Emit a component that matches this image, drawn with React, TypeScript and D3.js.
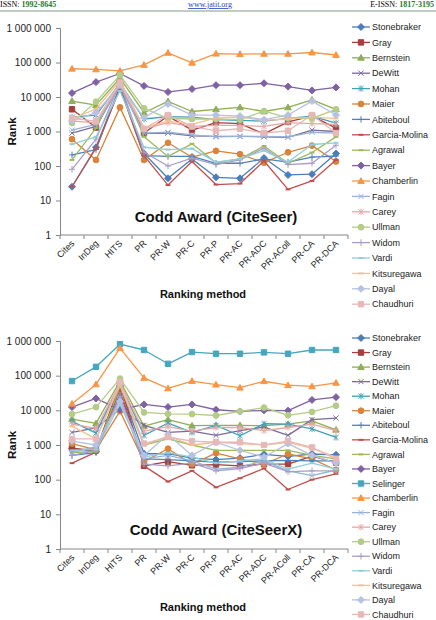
import React, { useEffect, useRef } from 'react';
import * as d3 from 'd3';

const methods = ['Cites', 'InDeg', 'HITS', 'PR', 'PR-W', 'PR-C', 'PR-P', 'PR-AC', 'PR-ADC', 'PR-AColl', 'PR-CA', 'PR-DCA'];
const rankTicks = [1, 10, 100, 1000, 10000, 100000, 1000000];

// CiteSeer ranks
const seerStonebraker = [25, 350, 20000, 230, 44, 160, 47, 44, 170, 55, 58, 230];
const seerGray = [4400, 1300, 28000, 900, 2800, 1100, 1800, 1700, 850, 1900, 2800, 1250];
const seerBernstein = [7600, 5800, 35000, 3500, 7500, 3800, 4400, 5000, 3800, 5000, 8300, 4400];
const seerDeWitt = [900, 1400, 22000, 880, 900, 750, 720, 720, 700, 680, 1100, 1000];
const seerMohan = [2600, 3000, 25000, 2300, 2700, 2600, 2200, 2100, 2000, 2400, 2800, 1750];
const seerMaier = [600, 150, 5000, 150, 470, 180, 275, 220, 125, 250, 390, 135];
const seerAbiteboul = [210, 300, 20000, 200, 190, 190, 120, 120, 160, 130, 180, 195];
const seerGarciaMolina = [25, 330, 18000, 200, 28, 135, 29, 31, 140, 21, 37, 150];
const seerAgrawal = [150, 1250, 30000, 700, 190, 440, 125, 160, 380, 120, 245, 700];
const seerBayer = [13000, 27000, 48000, 21000, 14000, 17000, 22000, 22000, 25000, 20000, 15500, 19000];
const seerChamberlin = [66000, 63000, 57000, 85000, 190000, 98000, 180000, 175000, 178000, 178000, 195000, 165000];
const seerFagin = [1100, 1600, 21000, 900, 950, 800, 700, 720, 720, 700, 950, 900];
const seerCarey = [2000, 1800, 24000, 1200, 1800, 1400, 1500, 1500, 1400, 1800, 1700, 1600];
const seerUllman = [1750, 7300, 43000, 4700, 2400, 2300, 2300, 2200, 3900, 2500, 2400, 4400];
const seerWidom = [80, 600, 25000, 250, 100, 170, 110, 150, 330, 110, 120, 400];
const seerVardi = [430, 700, 15000, 350, 300, 320, 130, 160, 280, 130, 420, 470];
const seerKitsuregawa = [2300, 4500, 30000, 1300, 2000, 1600, 2500, 2600, 2100, 2300, 2600, 2400];
const seerDayal = [2000, 3500, 22000, 2500, 6300, 3000, 3000, 2800, 2200, 3000, 7600, 3000];
const seerChaudhuri = [2400, 2000, 26000, 1200, 3000, 1400, 1050, 1200, 900, 1050, 3000, 900];

// CiteSeerX ranks
const seerxStonebraker = [800, 650, 50000, 560, 560, 420, 380, 420, 540, 470, 550, 520];
const seerxGray = [800, 700, 60000, 250, 330, 260, 270, 250, 280, 280, 480, 310];
const seerxBernstein = [5600, 4200, 70000, 3500, 5400, 3600, 3700, 3700, 3600, 4000, 5000, 2750];
const seerxDeWitt = [2300, 3100, 11000, 3700, 2300, 2500, 1900, 2600, 3300, 1900, 5400, 6000];
const seerxMohan = [4800, 2200, 60000, 1900, 4300, 2300, 3700, 1850, 4100, 4000, 2900, 1650];
const seerxMaier = [1100, 720, 9500, 330, 780, 280, 580, 400, 280, 550, 400, 190];
const seerxAbiteboul = [500, 600, 30000, 400, 380, 350, 320, 330, 350, 360, 350, 350];
const seerxGarciaMolina = [300, 620, 40000, 250, 88, 180, 60, 110, 210, 52, 100, 148];
const seerxAgrawal = [600, 650, 50000, 1000, 1500, 1000, 700, 700, 700, 700, 500, 400];
const seerxBayer = [12400, 22000, 10400, 14800, 12400, 14800, 10400, 9300, 10000, 9800, 20000, 24000];
const seerxSelinger = [70000, 180000, 810000, 550000, 220000, 480000, 430000, 430000, 470000, 430000, 550000, 550000];
const seerxChamberlin = [15500, 56000, 620000, 86000, 43000, 70000, 55000, 45000, 69000, 53000, 49000, 62000];
const seerxFagin = [600, 900, 20000, 400, 500, 350, 200, 230, 350, 180, 130, 190];
const seerxCarey = [4000, 3000, 60000, 2500, 3400, 2500, 3200, 3200, 2600, 3200, 4000, 2600];
const seerxUllman = [7800, 12400, 82000, 8700, 7900, 7800, 7100, 9300, 12000, 7200, 9000, 13600];
const seerxWidom = [500, 700, 25000, 280, 250, 300, 180, 210, 300, 170, 180, 180];
const seerxVardi = [700, 750, 15000, 450, 600, 450, 300, 350, 400, 200, 300, 200];
const seerxKitsuregawa = [3500, 1500, 55000, 1000, 1800, 1000, 1200, 1100, 1000, 1200, 800, 450];
const seerxDayal = [1300, 1000, 18000, 500, 2000, 500, 1200, 700, 450, 1100, 500, 300];
const seerxChaudhuri = [1500, 1500, 65000, 1100, 1700, 1300, 1200, 1200, 1000, 1300, 850, 400];

const citeSeer: [string, number[]][] = [
  ['Stonebraker', seerStonebraker], ['Gray', seerGray], ['Bernstein', seerBernstein],
  ['DeWitt', seerDeWitt], ['Mohan', seerMohan], ['Maier', seerMaier],
  ['Abiteboul', seerAbiteboul], ['Garcia-Molina', seerGarciaMolina], ['Agrawal', seerAgrawal],
  ['Bayer', seerBayer], ['Chamberlin', seerChamberlin], ['Fagin', seerFagin],
  ['Carey', seerCarey], ['Ullman', seerUllman], ['Widom', seerWidom],
  ['Vardi', seerVardi], ['Kitsuregawa', seerKitsuregawa], ['Dayal', seerDayal],
  ['Chaudhuri', seerChaudhuri],
];

const citeSeerX: [string, number[]][] = [
  ['Stonebraker', seerxStonebraker], ['Gray', seerxGray], ['Bernstein', seerxBernstein],
  ['DeWitt', seerxDeWitt], ['Mohan', seerxMohan], ['Maier', seerxMaier],
  ['Abiteboul', seerxAbiteboul], ['Garcia-Molina', seerxGarciaMolina], ['Agrawal', seerxAgrawal],
  ['Bayer', seerxBayer], ['Selinger', seerxSelinger], ['Chamberlin', seerxChamberlin],
  ['Fagin', seerxFagin], ['Carey', seerxCarey], ['Ullman', seerxUllman],
  ['Widom', seerxWidom], ['Vardi', seerxVardi], ['Kitsuregawa', seerxKitsuregawa],
  ['Dayal', seerxDayal], ['Chaudhuri', seerxChaudhuri],
];

const styles: Record<string, { color: string; marker: string }> = {
  Stonebraker: { color: '#4a7ebb', marker: 'diamond' },
  Gray: { color: '#a33f3c', marker: 'square' },
  Bernstein: { color: '#8fae55', marker: 'triangle' },
  DeWitt: { color: '#7b6a9b', marker: 'x' },
  Mohan: { color: '#40a0b8', marker: 'star' },
  Maier: { color: '#d9833b', marker: 'circle' },
  Abiteboul: { color: '#4f81bd', marker: 'plus' },
  'Garcia-Molina': { color: '#c0504d', marker: 'dash' },
  Agrawal: { color: '#9bbb59', marker: 'dash' },
  Bayer: { color: '#7f62a3', marker: 'diamond' },
  Selinger: { color: '#45a7bf', marker: 'square' },
  Chamberlin: { color: '#f79646', marker: 'triangle' },
  Fagin: { color: '#95b3d7', marker: 'x' },
  Carey: { color: '#e6a7a5', marker: 'star' },
  Ullman: { color: '#b3cc87', marker: 'circle' },
  Widom: { color: '#a99dc6', marker: 'plus' },
  Vardi: { color: '#92cddc', marker: 'dash' },
  Kitsuregawa: { color: '#fabf8f', marker: 'dash' },
  Dayal: { color: '#b6c2e2', marker: 'diamond' },
  Chaudhuri: { color: '#e6b8b7', marker: 'square' },
};

const markerPath = (type: string) => {
  switch (type) {
    case 'diamond': return 'M0,-3.5L3.5,0L0,3.5L-3.5,0Z';
    case 'square': return 'M-2.7,-2.7H2.7V2.7H-2.7Z';
    case 'triangle': return 'M0,-3.3L3.3,2.4H-3.3Z';
    case 'circle': return 'M2.9,0A2.9,2.9 0 1 1 -2.9,0A2.9,2.9 0 1 1 2.9,0Z';
    case 'x': return 'M-2.6,-2.6L2.6,2.6M-2.6,2.6L2.6,-2.6';
    case 'star': return 'M-2.6,-2.6L2.6,2.6M-2.6,2.6L2.6,-2.6M0,-3.2L0,3.2';
    case 'plus': return 'M0,-3.3L0,3.3M-3,0L3,0';
    default: return 'M-2.4,0L2.4,0';
  }
};

const fmt = (d: number) => d3.format(',')(d).replace(/,/g, ' ');

const panels = [
  { series: citeSeer, title: 'Codd Award (CiteSeer)', yTop: 28, yBottom: 235, titleY: 222, xTitleY: 298, legendY: 27, legendStep: 15.4 },
  { series: citeSeerX, title: 'Codd Award (CiteSeerX)', yTop: 341, yBottom: 549, titleY: 535, xTitleY: 611, legendY: 338, legendStep: 14.55 },
];

export default function App() {
  const svgRef = useRef<SVGSVGElement>(null);

  useEffect(() => {
    const svg = d3.select(svgRef.current);
    svg.selectAll('*').remove();

    // page header
    const head = svg.append('g').attr('font-family', '"Liberation Serif", serif').attr('font-size', 8);
    const left = head.append('text').attr('x', 0).attr('y', 7);
    left.append('tspan').text('ISSN: ');
    left.append('tspan').attr('fill', '#1f7a2a').attr('font-weight', 'bold').text('1992-8645');
    head.append('text').attr('x', 210).attr('y', 7).attr('text-anchor', 'middle')
      .attr('fill', '#1f3fbf').attr('text-decoration', 'underline').text('www.jatit.org');
    const right = head.append('text').attr('x', 434).attr('y', 7).attr('text-anchor', 'end');
    right.append('tspan').text('E-ISSN: ');
    right.append('tspan').attr('fill', '#1f7a2a').attr('font-weight', 'bold').text('1817-3195');
    head.append('line').attr('x1', 0).attr('x2', 436).attr('y1', 11).attr('y2', 11)
      .attr('stroke', '#7f9a84').attr('stroke-width', 1);

    const x = d3.scaleBand().domain(methods).range([60, 348]);
    const axisColor = '#868686';

    panels.forEach(p => {
      const y = d3.scaleLog().domain([1, 1000000]).range([p.yBottom, p.yTop]);
      const g = svg.append('g').attr('font-family', '"Liberation Sans", Arial, sans-serif');

      // Y axis
      const yAxis = g.append('g').attr('transform', 'translate(60,0)')
        .call(d3.axisLeft(y).tickValues(rankTicks).tickFormat(d => fmt(+d)).tickSize(4).tickPadding(5));
      yAxis.select('.domain').attr('stroke', axisColor);
      yAxis.selectAll('.tick line').attr('stroke', axisColor);
      yAxis.selectAll('.tick text').attr('font-size', 10).attr('fill', '#222').attr('font-family', '"Liberation Sans", Arial, sans-serif');

      // X axis
      g.append('line').attr('x1', 60).attr('x2', 348).attr('y1', p.yBottom).attr('y2', p.yBottom).attr('stroke', axisColor);
      g.selectAll('.xtick').data(d3.range(methods.length + 1)).enter().append('line')
        .attr('x1', i => 60 + i * x.bandwidth()).attr('x2', i => 60 + i * x.bandwidth())
        .attr('y1', p.yBottom).attr('y2', p.yBottom + 4).attr('stroke', axisColor);
      g.selectAll('.xlabel').data(methods).enter().append('text')
        .attr('transform', d => `translate(${(x(d) || 0) + x.bandwidth() / 2 + 3},${p.yBottom + 9}) rotate(-45)`)
        .attr('text-anchor', 'end').attr('font-size', 9).attr('fill', '#222').text(d => d);

      g.append('text').attr('x', 216).attr('y', p.titleY).attr('text-anchor', 'middle')
        .attr('font-size', 15).attr('font-weight', 'bold').attr('fill', '#111').text(p.title);
      g.append('text').attr('x', 203).attr('y', p.xTitleY).attr('text-anchor', 'middle')
        .attr('font-size', 11).attr('font-weight', 'bold').attr('fill', '#111').text('Ranking method');
      g.append('text').attr('transform', `translate(16,${(p.yTop + p.yBottom) / 2}) rotate(-90)`)
        .attr('text-anchor', 'middle').attr('font-size', 11.5).attr('font-weight', 'bold').attr('fill', '#111').text('Rank');

      // series
      const line = d3.line<number>()
        .x((_, i) => (x(methods[i]) || 0) + x.bandwidth() / 2)
        .y(v => y(v));

      p.series.forEach(([name, values]) => {
        const s = styles[name];
        const sg = g.append('g');
        sg.append('path').attr('d', line(values)).attr('fill', 'none')
          .attr('stroke', s.color).attr('stroke-width', 1.3).attr('stroke-linejoin', 'round');
        sg.selectAll('.m').data(values).enter().append('path')
          .attr('transform', (v, i) => `translate(${(x(methods[i]) || 0) + x.bandwidth() / 2},${y(v)})`)
          .attr('d', markerPath(s.marker))
          .attr('fill', s.color).attr('stroke', s.color)
          .attr('stroke-width', s.marker === 'dash' ? 2 : 1);
      });

      // legend
      const lg = g.append('g');
      p.series.forEach(([name], i) => {
        const s = styles[name];
        const ly = p.legendY + i * p.legendStep;
        lg.append('line').attr('x1', 352).attr('x2', 370).attr('y1', ly).attr('y2', ly)
          .attr('stroke', s.color).attr('stroke-width', 1.3);
        lg.append('path').attr('transform', `translate(361,${ly})`).attr('d', markerPath(s.marker))
          .attr('fill', s.color).attr('stroke', s.color).attr('stroke-width', s.marker === 'dash' ? 2 : 1);
        lg.append('text').attr('x', 372).attr('y', ly).attr('dy', '0.35em')
          .attr('font-size', 9).attr('fill', '#222').text(name);
      });
    });
  }, []);

  return (
    <div style={{ position: 'absolute', left: 0, top: 0, width: 436, height: 620, background: '#fff' }}>
      <svg ref={svgRef} width={436} height={620} viewBox="0 0 436 620" />
    </div>
  );
}
